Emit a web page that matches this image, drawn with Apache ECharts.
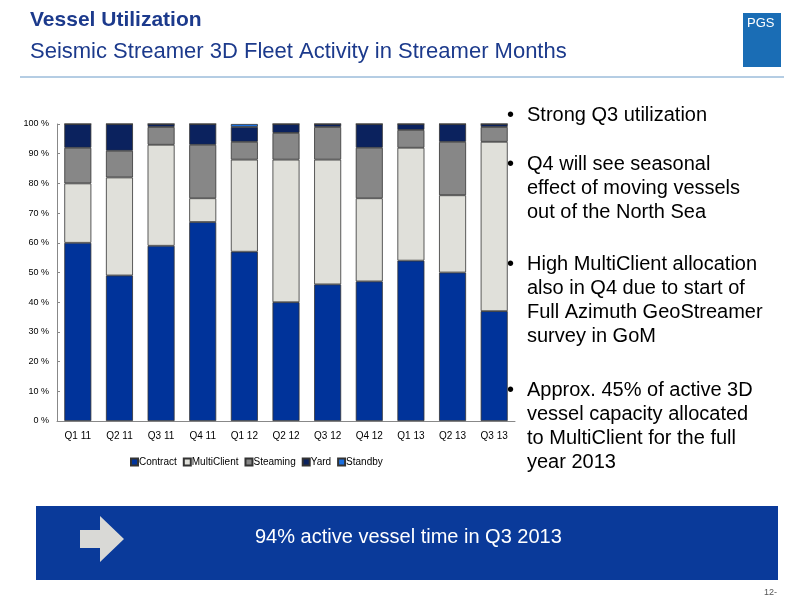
<!DOCTYPE html>
<html>
<head>
<meta charset="utf-8">
<script src="https://cdn.jsdelivr.net/npm/echarts@6/dist/echarts.min.js"></script>
<style>html,body{margin:0;padding:0;background:#fff}#main{width:800px;height:600px}</style>
</head>
<body>
<div id="main"></div>
<script>
var quarters = ['Q1 11', 'Q2 11', 'Q3 11', 'Q4 11', 'Q1 12', 'Q2 12', 'Q3 12', 'Q4 12', 'Q1 13', 'Q2 13', 'Q3 13'];
var contract = [60, 49, 59, 67, 57, 40, 46, 47, 54, 50, 37];
var multiClient = [20, 33, 34, 8, 31, 48, 42, 28, 38, 26, 57];
var steaming = [12, 9, 6, 18, 6, 9, 11, 17, 6, 18, 5];
var yard = [8, 9, 1, 7, 5, 3, 1, 8, 2, 6, 1];
var standby = [0, 0, 0, 0, 1, 0, 0, 0, 0, 0, 0];
var bullets = [
    ['Strong Q3 utilization'],
    ['Q4 will see seasonal', 'effect of moving vessels', 'out of the North Sea'],
    ['High MultiClient allocation', 'also in Q4 due to start of', 'Full Azimuth GeoStreamer', 'survey in GoM'],
    ['Approx. 45% of active 3D', 'vessel capacity allocated', 'to MultiClient for the full', 'year 2013']
];
var bulletTops = [103, 152, 252, 378];

var myChart = echarts.init(document.getElementById('main'));
var font = 'Liberation Sans, Arial, sans-serif';

function bar(name, data, color) {
    return {
        name: name, type: 'bar', stack: 'total', data: data, barWidth: 27,
        itemStyle: {color: color, borderColor: '#333', borderWidth: 0.8},
        emphasis: {disabled: true}
    };
}

// 右侧要点文字
var graphics = [];
bullets.forEach(function (lines, i) {
    graphics.push({type: 'text', left: 507, top: bulletTops[i], style: {text: '•', fontSize: 20, lineHeight: 24, fontFamily: font, fill: '#000'}});
    graphics.push({type: 'text', left: 527, top: bulletTops[i], style: {text: lines.join('\n'), fontSize: 20, lineHeight: 24, fontFamily: font, fill: '#000'}});
});
graphics.push(
    {type: 'text', left: 30, top: 10, style: {text: 'Vessel Utilization', fontSize: 21, fontWeight: 'bold', fontFamily: font, fill: '#1c3a8c'}},
    {type: 'text', left: 30, top: 41, style: {text: 'Seismic Streamer 3D Fleet Activity in Streamer Months', fontSize: 22, fontFamily: font, fill: '#1c3a8c'}},
    {type: 'line', shape: {x1: 20, y1: 77, x2: 784, y2: 77}, style: {stroke: '#6a9bc8', lineWidth: 1}},
    {type: 'rect', shape: {x: 743, y: 13, width: 38, height: 54}, style: {fill: '#1a6db5'}},
    {type: 'text', left: 747, top: 17, style: {text: 'PGS', fontSize: 13, fontFamily: font, fill: '#fff'}},
    {type: 'rect', shape: {x: 36, y: 506, width: 742, height: 74}, style: {fill: '#0a3a9a'}},
    {type: 'polygon', shape: {points: [[80, 530], [100, 530], [100, 516], [124, 539], [100, 562], [100, 548], [80, 548]]}, style: {fill: '#d9d9d6'}},
    {type: 'text', left: 255, top: 527, style: {text: '94% active vessel time in Q3 2013', fontSize: 20, fontFamily: font, fill: '#fff'}},
    {type: 'text', left: 764, top: 588, style: {text: '12-', fontSize: 9, fontFamily: font, fill: '#555'}}
);

var option = {
    animation: false,
    textStyle: {fontFamily: font},
    grid: {left: 57, top: 124, width: 458, height: 297},
    legend: {
        data: ['Contract', 'MultiClient', 'Steaming', 'Yard', 'Standby'],
        left: 125, top: 452, itemWidth: 7, itemHeight: 7, itemGap: 6, icon: 'rect',
        textStyle: {fontSize: 10, color: '#000', padding: [0, 0, 0, -4]}
    },
    xAxis: {
        type: 'category', data: quarters,
        axisLine: {lineStyle: {color: '#888'}}, axisTick: {show: false},
        axisLabel: {color: '#000', fontSize: 10, margin: 10}
    },
    yAxis: {
        type: 'value', min: 0, max: 100, interval: 10,
        axisLine: {show: true, lineStyle: {color: '#888'}}, axisTick: {show: true, length: 3, inside: true, lineStyle: {color: '#888'}},
        splitLine: {show: false},
        axisLabel: {color: '#000', fontSize: 9, formatter: '{value} %'}
    },
    series: [
        bar('Contract', contract, '#00339a'),
        bar('MultiClient', multiClient, '#e0e0da'),
        bar('Steaming', steaming, '#878787'),
        bar('Yard', yard, '#0b225e'),
        bar('Standby', standby, '#1a6fe0')
    ],
    graphic: graphics
};
myChart.setOption(option);
</script>
</body>
</html>
